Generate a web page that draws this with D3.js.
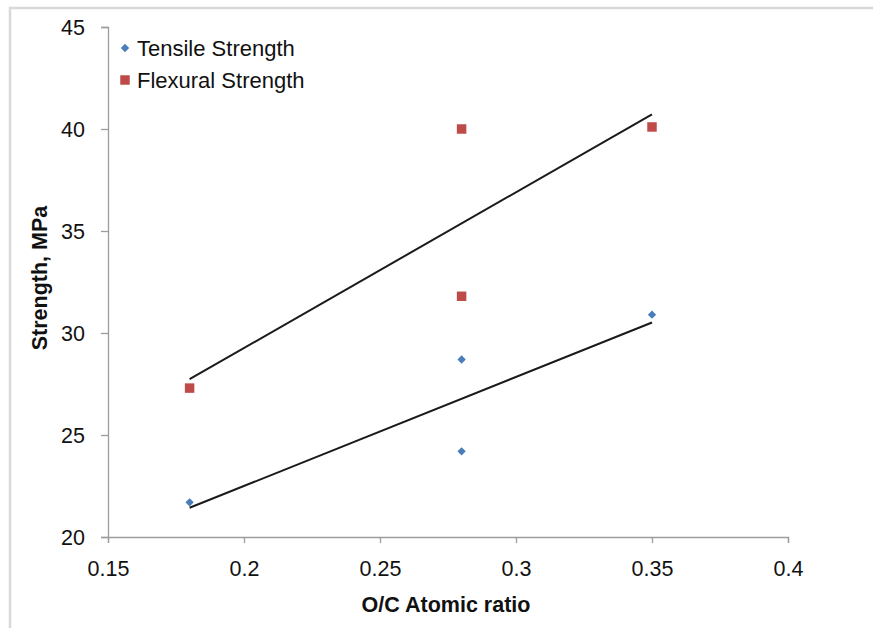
<!DOCTYPE html>
<html>
<head>
<meta charset="utf-8">
<script src="https://cdn.jsdelivr.net/npm/d3@7"></script>
<style>
  html, body { margin: 0; padding: 0; background: #fff; }
  svg { display: block; font-family: "Liberation Sans", Arial, sans-serif; }
</style>
</head>
<body>
<svg id="chart" width="873" height="628"></svg>
<script>
// O/C atomic ratio for each sample
const ratios = [0.18, 0.28, 0.28, 0.35];
// Measured strengths (MPa)
const tensile = [21.7, 28.7, 24.2, 30.9];
const flexural = [27.3, 40.0, 31.8, 40.1];
const xTicks = [0.15, 0.2, 0.25, 0.3, 0.35, 0.4];
const yTicks = [20, 25, 30, 35, 40, 45];
const seriesNames = ["Tensile Strength", "Flexural Strength"];
const seriesColors = ["#4a7ebb", "#be4b48"];

const svg = d3.select("#chart");
const W = 873, H = 628;

// outer chart frame (only top and left edges fall inside the view)
svg.append("rect").attr("x", 10).attr("y", 8).attr("width", W + 20).attr("height", H + 20)
  .attr("fill", "#fff").attr("stroke", "#d9d9d9").attr("stroke-width", 2.5);

const x = d3.scaleLinear().domain([0.15, 0.4]).range([108, 788]);
const y = d3.scaleLinear().domain([20, 45]).range([537, 27]);

const axisColor = "#9d9d9d";
const labelSize = 21.5;

const xAxis = svg.append("g").attr("transform", `translate(0,${y(20)})`)
  .call(d3.axisBottom(x).tickValues(xTicks).tickSize(6).tickPadding(18)
    .tickFormat(d => d3.format("")(+d.toFixed(2))));
const yAxis = svg.append("g").attr("transform", `translate(${x(0.15)},0)`)
  .call(d3.axisLeft(y).tickValues(yTicks).tickSize(7).tickPadding(16));

[xAxis, yAxis].forEach(g => {
  g.select(".domain").attr("stroke", axisColor).attr("stroke-width", 1.3);
  g.selectAll(".tick line").attr("stroke", axisColor).attr("stroke-width", 1.3);
  g.selectAll(".tick text").attr("fill", "#111").attr("font-size", labelSize)
    .attr("font-family", "Liberation Sans, Arial, sans-serif");
});
yAxis.selectAll(".tick text").attr("dy", "0.35em");

// least-squares trend line drawn across the sampled ratio range
function trend(xs, ys) {
  const mx = d3.mean(xs), my = d3.mean(ys);
  const sxy = d3.sum(xs, (v, i) => (v - mx) * (ys[i] - my));
  const sxx = d3.sum(xs, v => (v - mx) ** 2);
  const b = sxy / sxx, a = my - b * mx;
  const [x0, x1] = d3.extent(xs);
  return [[x0, a + b * x0], [x1, a + b * x1]];
}

const line = d3.line().x(d => x(d[0])).y(d => y(d[1]));
[tensile, flexural].forEach(vals => {
  svg.append("path").attr("d", line(trend(ratios, vals)))
    .attr("fill", "none").attr("stroke", "#1a1a1a").attr("stroke-width", 2);
});

const diamond = d3.symbol().type(d3.symbolDiamond2).size(44);
const square = d3.symbol().type(d3.symbolSquare).size(90);

svg.append("g").selectAll("path").data(ratios.map((r, i) => [r, tensile[i]]))
  .join("path").attr("d", diamond)
  .attr("transform", d => `translate(${x(d[0])},${y(d[1])})`)
  .attr("fill", seriesColors[0]);

svg.append("g").selectAll("path").data(ratios.map((r, i) => [r, flexural[i]]))
  .join("path").attr("d", square)
  .attr("transform", d => `translate(${x(d[0])},${y(d[1])})`)
  .attr("fill", seriesColors[1]);

// legend
const legend = svg.append("g").attr("transform", "translate(125,48)");
seriesNames.forEach((name, i) => {
  const g = legend.append("g").attr("transform", `translate(0,${i * 32})`);
  g.append("path").attr("d", i === 0 ? diamond : square).attr("fill", seriesColors[i]);
  g.append("text").attr("x", 12).attr("dy", "0.35em").attr("font-size", 22)
    .attr("fill", "#111").text(name);
});

// axis titles
svg.append("text").attr("x", 446).attr("y", 612).attr("text-anchor", "middle")
  .attr("font-size", 21.5).attr("font-weight", "bold").attr("fill", "#111")
  .text("O/C Atomic ratio");
svg.append("text").attr("transform", "translate(47,278) rotate(-90)")
  .attr("text-anchor", "middle").attr("font-size", 21.5).attr("font-weight", "bold")
  .attr("fill", "#111").text("Strength, MPa");
</script>
</body>
</html>
